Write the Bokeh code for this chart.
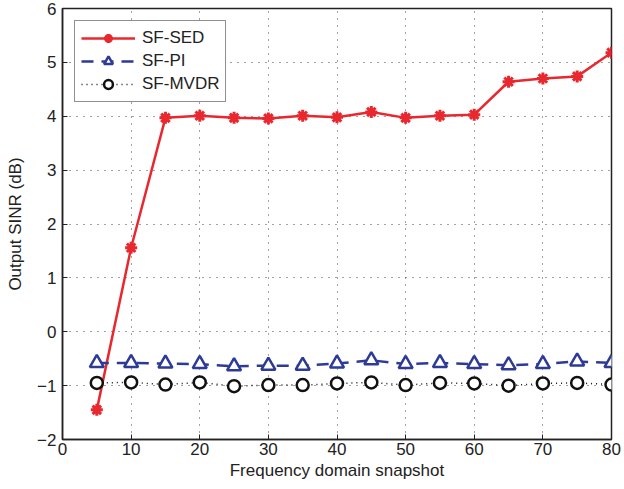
from bokeh.plotting import figure
from bokeh.models import Legend, LegendItem, FixedTicker, Range1d
from bokeh.embed import file_html
from bokeh.resources import INLINE

snapshots = [5, 10, 15, 20, 25, 30, 35, 40, 45, 50, 55, 60, 65, 70, 75, 80]
sf_sed = [-1.45, 1.56, 3.97, 4.01, 3.97, 3.96, 4.01, 3.98, 4.08, 3.97, 4.01, 4.03, 4.64, 4.70, 4.74, 5.18]
sf_pi = [-0.58, -0.58, -0.59, -0.60, -0.64, -0.63, -0.63, -0.59, -0.53, -0.60, -0.58, -0.60, -0.62, -0.60, -0.55, -0.58]
sf_mvdr = [-0.95, -0.94, -0.98, -0.94, -1.01, -0.99, -0.99, -0.96, -0.94, -0.99, -0.95, -0.96, -1.00, -0.96, -0.95, -0.98]

x_ticks = [0, 10, 20, 30, 40, 50, 60, 70, 80]
y_ticks = [-2, -1, 0, 1, 2, 3, 4, 5, 6]

FONT = "Liberation Sans"
RED = "#e8282e"
BLUE = "#2d3a96"
BLACK = "#111111"

p = figure(width=624, height=489, output_backend="svg", toolbar_location=None,
           x_range=Range1d(0, 80), y_range=Range1d(-2, 6),
           min_border_left=62, min_border_right=13, min_border_top=8, min_border_bottom=50,
           background_fill_color="white", border_fill_color="white")

p.outline_line_color = "#222222"
p.outline_line_width = 1.5

for ax in (p.xaxis[0], p.yaxis[0]):
    ax.major_label_text_font = FONT
    ax.major_label_text_font_size = "17px"
    ax.major_label_text_color = "#222222"
    ax.axis_label_text_font = FONT
    ax.axis_label_text_font_size = "17px"
    ax.axis_label_text_font_style = "normal"
    ax.axis_label_text_color = "#222222"
    ax.major_tick_in = 5
    ax.major_tick_out = 0
    ax.minor_tick_in = 0
    ax.minor_tick_out = 0
    ax.axis_line_color = "#222222"
    ax.axis_line_width = 1.5
    ax.major_tick_line_color = "#222222"

p.xaxis[0].ticker = FixedTicker(ticks=x_ticks)
p.yaxis[0].ticker = FixedTicker(ticks=y_ticks)
p.xaxis[0].axis_label = "Frequency domain snapshot"
p.yaxis[0].axis_label = "Output SINR (dB)"
p.xaxis[0].major_label_standoff = 3
p.yaxis[0].major_label_standoff = 6
p.xaxis[0].axis_label_standoff = 3
p.yaxis[0].axis_label_standoff = 9

p.xgrid.ticker = FixedTicker(ticks=x_ticks)
p.ygrid.ticker = FixedTicker(ticks=y_ticks)
for g in (p.xgrid[0], p.ygrid[0]):
    g.grid_line_color = "#444444"
    g.grid_line_dash = "1 6"
    g.grid_line_width = 1

r1 = p.line(snapshots, sf_sed, line_color=RED, line_width=2.5)
m1 = p.scatter(snapshots, sf_sed, marker="asterisk", size=12, line_color=RED, line_width=3)
r2 = p.line(snapshots, sf_pi, line_color=BLUE, line_width=2.5, line_dash="12 8")
m2 = p.scatter(snapshots, sf_pi, marker="triangle", size=14, line_color=BLUE, fill_color="white", line_width=2.5)
r3 = p.line(snapshots, sf_mvdr, line_color=BLACK, line_width=1.5, line_dash="1 4")
m3 = p.scatter(snapshots, sf_mvdr, marker="circle", size=12, line_color=BLACK, fill_color="white", line_width=2.5)

legend = Legend(items=[
    LegendItem(label="SF-SED", renderers=[r1, m1]),
    LegendItem(label="SF-PI", renderers=[r2, m2]),
    LegendItem(label="SF-MVDR", renderers=[r3, m3]),
], location="top_left")
legend.label_text_font = FONT
legend.label_text_font_size = "17px"
legend.label_text_color = "#222222"
legend.border_line_color = "#222222"
legend.border_line_width = 1.2
legend.glyph_width = 54
legend.glyph_height = 22
legend.label_standoff = 7
legend.spacing = 1
legend.padding = 6
legend.margin = 12
legend.background_fill_alpha = 1
p.add_layout(legend)

open("out.html", "w").write(file_html(p, INLINE))
